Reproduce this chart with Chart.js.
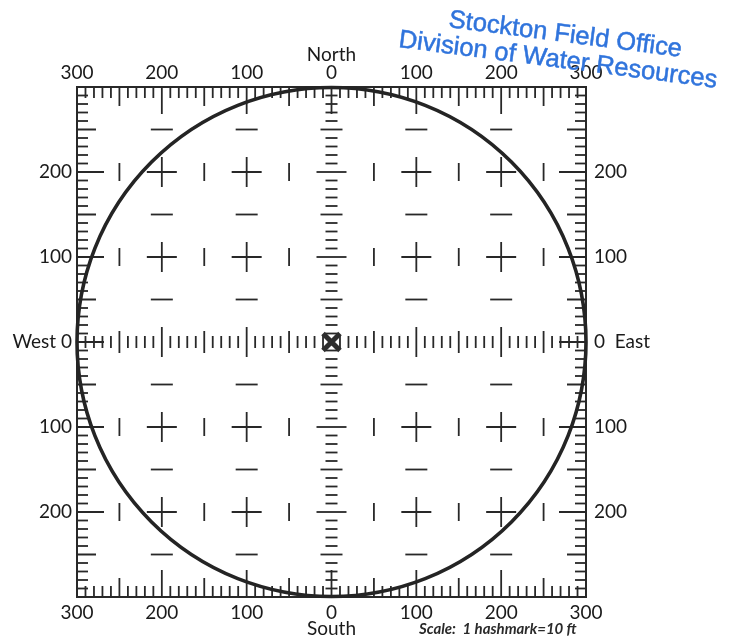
<!DOCTYPE html>
<html>
<head>
<meta charset="utf-8">
<title>Well site sketch grid</title>
<script src="https://cdn.jsdelivr.net/npm/chart.js@4.4.1/dist/chart.umd.min.js"></script>
<style>
  html, body { margin: 0; padding: 0; background: #ffffff; }
  #wrap { width: 732px; height: 638px; position: relative; }
</style>
</head>
<body>
<div id="wrap"><canvas id="gridChart"></canvas></div>
<script>
// Grid extent in feet, hashmarks every 10 ft
const extent = 300;
const hashFeet = [-290, -280, -270, -260, -250, -240, -230, -220, -210, -200,
   -190, -180, -170, -160, -150, -140, -130, -120, -110, -100,
   -90, -80, -70, -60, -50, -40, -30, -20, -10, 0,
   10, 20, 30, 40, 50, 60, 70, 80, 90, 100,
   110, 120, 130, 140, 150, 160, 170, 180, 190, 200,
   210, 220, 230, 240, 250, 260, 270, 280, 290];
const crossFeet = [-200, -100, 100, 200];
const midFeet = [-250, -150, -50, 50, 150, 250];
const circleRadiusFt = 300;

// Tick labels (ascending values -300..300)
const topLabels = ["300", "200", "100", "0", "100", "200", "300"];
const leftLabels = ["", "200", "100", "West 0", "100", "200", ""];
const rightLabels = ["", "200", "100", "0  East", "100", "200", ""];

const inkColor = "#282828";
const labelFont = { family: "Lato", size: 19 };

// hashmark size class: 0 = 10 ft, 1 = 50 ft, 2 = 100 ft
function hashClass(v) {
   if (v % 100 === 0) return 2;
   if (v % 50 === 0) return 1;
   return 0;
}
const borderTickLen = [11, 19, 27];
const axisTickLen = [6, 11, 15];

const nonZero = hashFeet.filter((v) => v !== 0);

function pts(list, fn) {
   return list.map(fn);
}

const crossPts = [];
const barPts = [];
const dashPts = [];
crossFeet.forEach((a) => crossFeet.forEach((b) => crossPts.push({ x: a, y: b })));
midFeet.forEach((a) => crossFeet.forEach((b) => barPts.push({ x: a, y: b })));
crossFeet.forEach((a) => midFeet.forEach((b) => dashPts.push({ x: a, y: b })));

function hashSet(data, rotation, lenFn, key, clip) {
   return {
      data: data,
      pointStyle: "line",
      pointRotation: rotation,
      pointRadius: (ctx) => (ctx.raw ? lenFn[hashClass(ctx.raw[key])] : 0),
      pointBorderColor: inkColor,
      pointBorderWidth: 1.8,
      showLine: false,
      clip: clip,
   };
}

function circlePixelRadius(ctx) {
   const s = ctx.chart.scales.x;
   return Math.abs(s.getPixelForValue(circleRadiusFt) - s.getPixelForValue(0));
}

function stampLine(ctx, text, x, y) {
   ctx.save();
   ctx.fillStyle = "rgb(48, 116, 220)";
   ctx.strokeStyle = "rgb(48, 116, 220)";
   ctx.lineWidth = 0.5;
   ctx.font = "25.5px 'Liberation Sans'";
   ctx.translate(x, y);
   ctx.rotate((7.3 * Math.PI) / 180);
   ctx.fillText(text, 0, 0);
   ctx.strokeText(text, 0, 0);
   ctx.restore();
}

const notesPlugin = {
   id: "notes",
   afterDraw(chart) {
      const ctx = chart.ctx;
      ctx.save();
      // scale note
      ctx.font = "italic bold 15px Lato";
      ctx.fillStyle = "#2a2a2a";
      ctx.textBaseline = "alphabetic";
      ctx.fillText("Scale:  1 hashmark=10 ft", 419, 634);
      ctx.restore();
      // office stamp
      stampLine(ctx, "Stockton Field Office", 448, 27);
      stampLine(ctx, "Division of Water Resources", 398, 47);
   },
};

function axisBase(position, labels, padding, size) {
   const horizontal = position === "top" || position === "bottom";
   return {
      type: "linear",
      position: position,
      min: -extent,
      max: extent,
      ticks: {
         stepSize: 100,
         autoSkip: false,
         maxRotation: 0,
         padding: padding,
         color: "#1a1a1a",
         font: labelFont,
         callback: (value, index) => labels[index],
      },
      grid: { display: false, drawTicks: false },
      border: { display: true, color: inkColor, width: 2 },
      afterFit: (scale) => {
         if (horizontal) scale.height = size;
         else scale.width = size;
      },
   };
}

const xTop = axisBase("top", topLabels, 3, 87);
xTop.title = { display: true, text: "North", color: "#1a1a1a", font: labelFont, padding: { top: 43, bottom: 0 } };
const xBottom = axisBase("bottom", topLabels, 4, 41);
xBottom.title = { display: true, text: "South", color: "#1a1a1a", font: { family: "Lato", size: 19, lineHeight: 1 }, padding: { top: 0, bottom: 0 } };
const yLeft = axisBase("left", leftLabels, 5, 77);
const yRight = axisBase("right", rightLabels, 8, 146);

new Chart(document.getElementById("gridChart"), {
   type: "scatter",
   data: {
      datasets: [
         // outer circle
         {
            data: [{ x: 0, y: 0 }],
            pointStyle: "circle",
            pointRadius: circlePixelRadius,
            pointBackgroundColor: "rgba(0,0,0,0)",
            pointBorderColor: "#242424",
            pointBorderWidth: 3.6,
            clip: false,
         },
         // center mark
         {
            data: [{ x: 0, y: 0 }],
            pointStyle: "crossRot",
            pointRadius: 12,
            pointBorderColor: "#2e2e2e",
            pointBorderWidth: 5,
            clip: false,
         },
         // border hashmarks
         hashSet(pts(hashFeet, (v) => ({ x: v, y: extent })), 90, borderTickLen, "x", 0),
         hashSet(pts(hashFeet, (v) => ({ x: v, y: -extent })), 90, borderTickLen, "x", 0),
         hashSet(pts(hashFeet, (v) => ({ x: -extent, y: v })), 0, borderTickLen, "y", 0),
         hashSet(pts(hashFeet, (v) => ({ x: extent, y: v })), 0, borderTickLen, "y", 0),
         // center axis hashmarks
         hashSet(pts(nonZero, (v) => ({ x: v, y: 0 })), 90, axisTickLen, "x", false),
         hashSet(pts(nonZero, (v) => ({ x: 0, y: v })), 0, axisTickLen, "y", false),
         // interior crosses, bars and dashes
         {
            data: crossPts,
            pointStyle: "cross",
            pointRadius: 15,
            pointBorderColor: inkColor,
            pointBorderWidth: 1.8,
         },
         {
            data: barPts,
            pointStyle: "line",
            pointRotation: 90,
            pointRadius: 9,
            pointBorderColor: inkColor,
            pointBorderWidth: 1.8,
         },
         {
            data: dashPts,
            pointStyle: "line",
            pointRadius: 11,
            pointBorderColor: inkColor,
            pointBorderWidth: 1.8,
         },
      ],
   },
   options: {
      responsive: true,
      maintainAspectRatio: false,
      animation: false,
      events: [],
      layout: { padding: 0 },
      plugins: {
         legend: { display: false },
         tooltip: { enabled: false },
      },
      scales: {
         x: xTop,
         x2: xBottom,
         y: yLeft,
         y2: yRight,
      },
   },
   plugins: [notesPlugin],
});
</script>
</body>
</html>
